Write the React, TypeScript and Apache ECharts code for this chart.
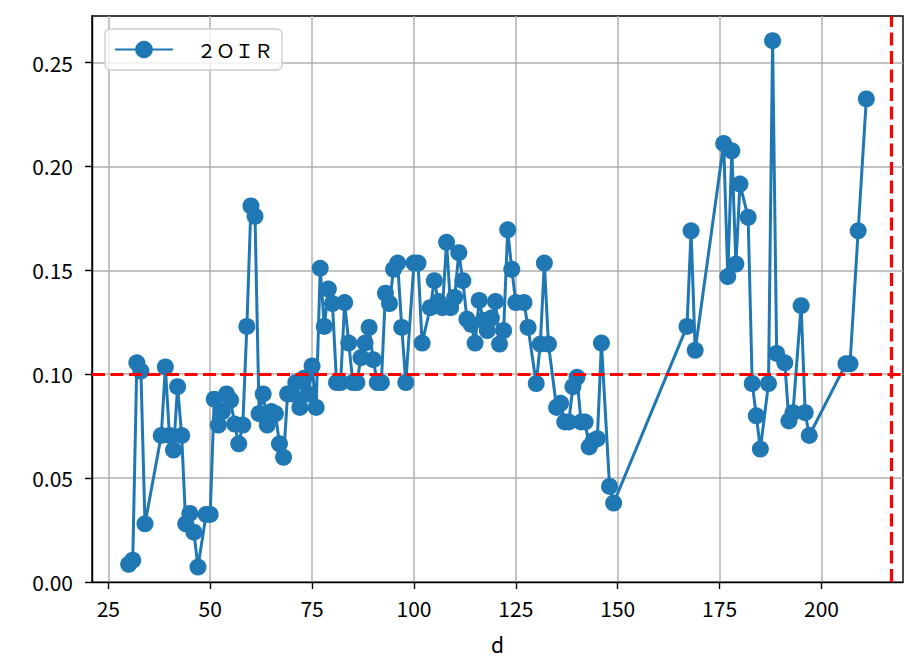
import React, { useEffect, useRef } from "react";
import * as echarts from "echarts";

const dValues = [
  30, 31, 32, 33, 34, 38, 39, 40, 41, 42, 43, 44, 45, 46, 47, 49, 50,
  51, 52, 53, 54, 55, 56, 57, 58, 59, 60, 61, 62, 63, 64, 65, 66, 67, 68, 69, 70,
  71, 72, 73, 74, 75, 76, 77, 78, 79, 80, 81, 82, 83, 84, 85, 86, 87, 88, 89, 90,
  91, 92, 93, 94, 95, 96, 97, 98, 100, 101, 102, 104, 105, 106, 107, 108, 109, 110,
  111, 112, 113, 114, 115, 116, 117, 118, 119, 120, 121, 122, 123, 124, 125, 127, 128, 130,
  131, 132, 133, 135, 136, 137, 138, 139, 140, 141, 142, 143, 144, 145, 146, 148, 149,
  167, 168, 169, 176, 177, 178, 179, 180, 182, 183, 184, 185, 187, 188, 189,
  191, 192, 193, 195, 196, 197, 206, 207, 209, 211,
];

const ratioValues = [
  0.0085, 0.0105, 0.1055, 0.1015, 0.028, 0.0705, 0.1035, 0.0705, 0.0635, 0.094, 0.0705, 0.028, 0.033, 0.024, 0.0072, 0.0325, 0.0325,
  0.088, 0.0755, 0.082, 0.0905, 0.0875, 0.076, 0.0665, 0.0755, 0.123, 0.181, 0.176, 0.081, 0.0905, 0.0755, 0.082, 0.081, 0.0665, 0.06, 0.0905, 0.0905,
  0.096, 0.084, 0.098, 0.0905, 0.104, 0.084, 0.151, 0.123, 0.141, 0.134, 0.096, 0.096, 0.1345, 0.115, 0.096, 0.096, 0.108, 0.115, 0.1225, 0.107,
  0.096, 0.096, 0.139, 0.134, 0.1505, 0.1535, 0.1225, 0.096, 0.1535, 0.1535, 0.115, 0.132, 0.145, 0.135, 0.132, 0.1635, 0.132, 0.137,
  0.1585, 0.145, 0.1265, 0.124, 0.115, 0.1355, 0.126, 0.121, 0.127, 0.135, 0.1145, 0.121, 0.1695, 0.1505, 0.1345, 0.1345, 0.1225, 0.0955,
  0.1145, 0.1535, 0.1145, 0.084, 0.086, 0.077, 0.077, 0.094, 0.0985, 0.077, 0.077, 0.065, 0.068, 0.069, 0.115, 0.046, 0.038,
  0.123, 0.169, 0.1115, 0.211, 0.147, 0.2075, 0.153, 0.1915, 0.1755, 0.0955, 0.08, 0.064, 0.0955, 0.2605, 0.11,
  0.1055, 0.0775, 0.0815, 0.133, 0.0815, 0.0705, 0.105, 0.105, 0.169, 0.2325,
];

const xTicks = [25, 50, 75, 100, 125, 150, 175, 200];
const yTicks = [0, 0.05, 0.1, 0.15, 0.2, 0.25];
const thresholdY = 0.1;
const thresholdX = 217;
const seriesName = "２ＯＩＲ";
const xLabel = "d";

const FONT = "'Noto Sans CJK JP', 'Noto Sans', sans-serif";

export default function App() {
  const ref = useRef<HTMLDivElement>(null);

  useEffect(() => {
    if (!ref.current) return;
    const chart = echarts.init(ref.current, null, { renderer: "svg" });
    const data = dValues.map((d, i) => [d, ratioValues[i]]);
    chart.setOption({
      animation: false,
      backgroundColor: "#ffffff",
      grid: {
        left: 92,
        right: 1,
        top: 16,
        bottom: 74,
        show: true,
        borderColor: "#000000",
        borderWidth: 1.4,
        backgroundColor: "transparent",
      },
      legend: {
        show: true,
        left: 105,
        top: 29,
        itemWidth: 58,
        itemHeight: 22,
        padding: [11, 9],
        borderColor: "#cccccc",
        borderWidth: 1.3,
        borderRadius: 5,
        backgroundColor: "rgba(255,255,255,0.8)",
        textStyle: { fontSize: 19, color: "#000", fontFamily: FONT, padding: [0, 0, 0, 19] },
        data: [seriesName],
      },
      xAxis: {
        type: "value",
        min: 21,
        max: 220,
        name: xLabel,
        nameLocation: "middle",
        nameGap: 51,
        nameTextStyle: { fontSize: 21, color: "#000", fontFamily: FONT },
        axisLine: { show: true, onZero: false, lineStyle: { color: "#000", width: 1.4 } },
        axisTick: { show: true, inside: false, length: 7, customValues: xTicks, lineStyle: { color: "#000", width: 1.4 } },
        axisLabel: { customValues: xTicks, margin: 15, fontSize: 21, color: "#000", fontFamily: FONT, formatter: (v: number) => String(v) },
        splitLine: { show: true, lineStyle: { color: "#b0b0b0", width: 1.5 } },
      },
      yAxis: {
        type: "value",
        min: 0,
        max: 0.2724,
        axisLine: { show: true, lineStyle: { color: "#000", width: 1.4 } },
        axisTick: { show: true, inside: false, length: 7, customValues: yTicks, lineStyle: { color: "#000", width: 1.4 } },
        axisLabel: { customValues: yTicks, margin: 19, fontSize: 21, color: "#000", fontFamily: FONT, formatter: (v: number) => v.toFixed(2) },
        splitLine: { show: true, lineStyle: { color: "#b0b0b0", width: 1.5 } },
      },
      series: [
        {
          type: "line",
          name: seriesName,
          data,
          symbol: "circle",
          symbolSize: 17,
          showAllSymbol: true,
          lineStyle: { color: "#1f77b4", width: 3 },
          itemStyle: { color: "#1f77b4" },
          markLine: {
            silent: true,
            symbol: ["none", "none"],
            label: { show: false },
            lineStyle: { color: "#ff0000", type: [13, 5.5], width: 3.2 },
            data: [{ yAxis: thresholdY }, { xAxis: thresholdX }],
          },
        },
      ],
    });
    return () => chart.dispose();
  }, []);

  return (
    <div
      ref={ref}
      style={{ position: "fixed", left: 0, top: 0, width: 904, height: 659, background: "#fff" }}
    />
  );
}
